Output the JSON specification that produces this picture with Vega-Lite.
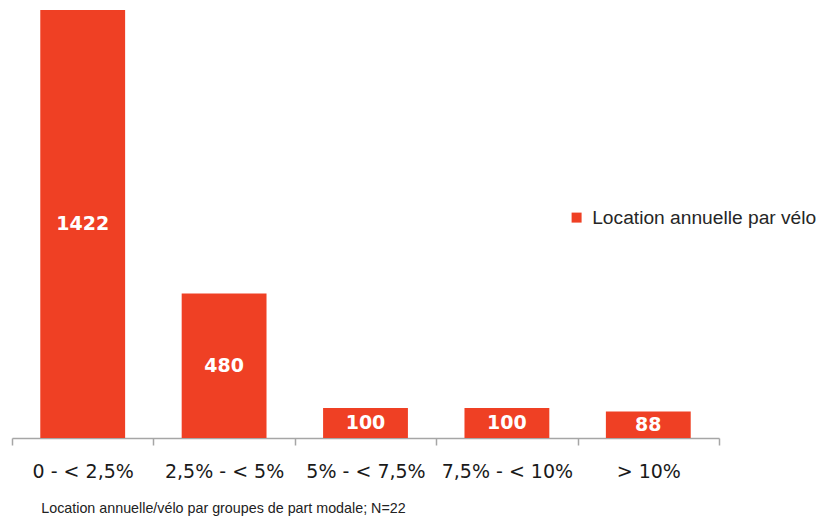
{
  "$schema": "https://vega.github.io/schema/vega-lite/v6.json",
  "width": 707,
  "height": 428,
  "autosize": "none",
  "padding": {"left": 12, "top": 10, "right": 105, "bottom": 80},
  "background": "white",
  "data": {"values": [
    {"groupe": "0 - < 2,5%", "valeur": 1422, "serie": "Location annuelle par vélo"},
    {"groupe": "2,5% - < 5%", "valeur": 480, "serie": "Location annuelle par vélo"},
    {"groupe": "5% - < 7,5%", "valeur": 100, "serie": "Location annuelle par vélo"},
    {"groupe": "7,5% - < 10%", "valeur": 100, "serie": "Location annuelle par vélo"},
    {"groupe": "> 10%", "valeur": 88, "serie": "Location annuelle par vélo"}
  ]},
  "title": {
    "text": "Location annuelle/vélo par groupes de part modale; N=22",
    "orient": "bottom",
    "anchor": "start",
    "dx": 30,
    "offset": 21,
    "font": "Liberation Sans",
    "fontSize": 14.3,
    "fontWeight": "normal",
    "color": "#222222"
  },
  "encoding": {
    "x": {
      "field": "groupe",
      "type": "nominal",
      "sort": null,
      "scale": {"paddingInner": 0, "paddingOuter": 0},
      "axis": {
        "title": null,
        "labelAngle": 0,
        "tickBand": "extent",
        "domainColor": "#a6a6a6",
        "domainWidth": 1.5,
        "tickColor": "#a6a6a6",
        "tickWidth": 1.5,
        "tickSize": 7,
        "labelFont": "DejaVu Sans",
        "labelFontSize": 19,
        "labelColor": "#1a1a1a",
        "labelPadding": 17
      }
    }
  },
  "layer": [
    {
      "mark": {"type": "bar", "color": "#EF4024", "width": {"band": 0.6}},
      "encoding": {
        "y": {"field": "valeur", "type": "quantitative", "scale": {"domain": [0, 1422], "nice": false}, "axis": null},
        "color": {
          "field": "serie",
          "type": "nominal",
          "scale": {"range": ["#EF4024"]},
          "legend": {
            "title": null,
            "orient": "none",
            "legendX": 555,
            "legendY": 198,
            "symbolType": "square",
            "symbolSize": 100,
            "symbolStrokeWidth": 0,
            "labelFont": "Liberation Sans",
            "labelFontSize": 19.2,
            "labelColor": "#262626",
            "labelOffset": 6,
            "labelLimit": 300,
            "padding": 0
          }
        }
      }
    },
    {
      "transform": [{"calculate": "datum.valeur / 2", "as": "milieu"}],
      "mark": {"type": "text", "color": "white", "font": "DejaVu Sans", "fontWeight": "bold", "fontSize": 19, "baseline": "middle"},
      "encoding": {
        "y": {"field": "milieu", "type": "quantitative"},
        "text": {"field": "valeur", "type": "quantitative"}
      }
    }
  ],
  "config": {"view": {"stroke": null}}
}
